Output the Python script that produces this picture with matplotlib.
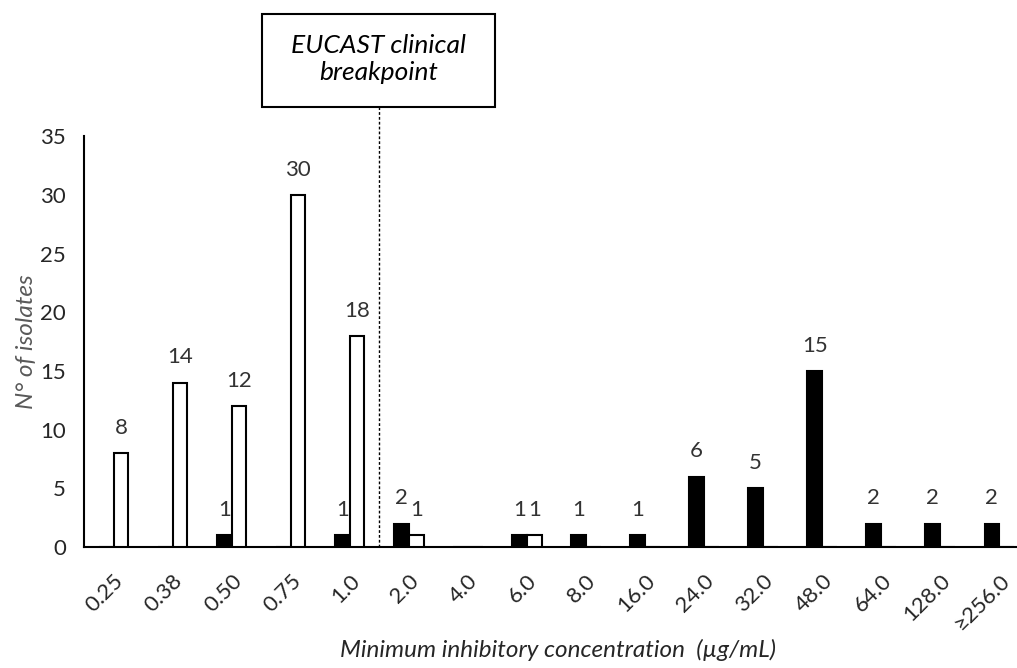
import matplotlib.pyplot as plt
from matplotlib.patches import Rectangle
import numpy as np

plt.rcParams['font.family'] = ['Lato', 'DejaVu Sans']

# MIC categories and number of isolates
mic_labels = ['0.25', '0.38', '0.50', '0.75', '1.0', '2.0', '4.0', '6.0',
              '8.0', '16.0', '24.0', '32.0', '48.0', '64.0', '128.0', '≥256.0']
black_counts = [0, 0, 1, 0, 1, 2, 0, 1, 1, 1, 6, 5, 15, 2, 2, 2]
white_counts = [8, 14, 12, 30, 18, 1, 0, 1, 0, 0, 0, 0, 0, 0, 0, 0]
breakpoint_pos = 4.5  # between 1.0 and 2.0

fig = plt.figure(figsize=(10.17, 6.68), dpi=100)
ax = fig.add_axes([0.0826, 0.181, 0.9174, 0.615])

x = np.arange(len(mic_labels))
w = 0.25
ax.bar(x - w / 2, black_counts, w, color='black', edgecolor='black', linewidth=1.5, zorder=3)
ax.bar(x + w / 2, white_counts, w, color='white', edgecolor='black', linewidth=1.5, zorder=3)

# value labels (only non-zero)
for xi, v in zip(x, black_counts):
    if v > 0:
        ax.annotate(str(v), (xi - w / 2, v), xytext=(0, 11), textcoords='offset points',
                    ha='center', va='bottom', fontsize=16, color='#333333')
for xi, v in zip(x, white_counts):
    if v > 0:
        ax.annotate(str(v), (xi + w / 2, v), xytext=(0, 11), textcoords='offset points',
                    ha='center', va='bottom', fontsize=16, color='#333333')

ax.set_xlim(-0.5, 15.3)
ax.set_ylim(0, 35)
ax.set_yticks(range(0, 36, 5))
ax.set_xticks(x)
ax.set_xticklabels(mic_labels, rotation=45, ha='right', va='top', rotation_mode='anchor')
ax.tick_params(axis='both', length=0, labelsize=16, colors='#262626')
ax.tick_params(axis='y', pad=13)
ax.tick_params(axis='x', pad=17)

for s in ['top', 'right']:
    ax.spines[s].set_visible(False)
for s in ['left', 'bottom']:
    ax.spines[s].set_linewidth(1.5)
    ax.spines[s].set_color('black')

ax.set_ylabel('N° of isolates', fontsize=17.5, style='italic', color='#595959', labelpad=2)
fig.text(0.549, 0.027, 'Minimum inhibitory concentration  (µg/mL)', fontsize=17.5,
         style='italic', color='#262626', ha='center', va='center')

# breakpoint line and box
ax.plot([breakpoint_pos, breakpoint_pos], [0, 37.5], color='black', linestyle=(0, (2, 1.5)),
        linewidth=1.0, clip_on=False, zorder=2)
fig.patches.append(Rectangle((262 / 1017, 1 - 107 / 668), 233 / 1017, 93 / 668,
                             transform=fig.transFigure, fill=False,
                             edgecolor='black', linewidth=1.5))
fig.text(378.5 / 1017, 1 - 59 / 668, 'EUCAST clinical\nbreakpoint', fontsize=19,
         style='italic', ha='center', va='center', linespacing=1.25, color='black')

fig.savefig('out.png', dpi=100)
